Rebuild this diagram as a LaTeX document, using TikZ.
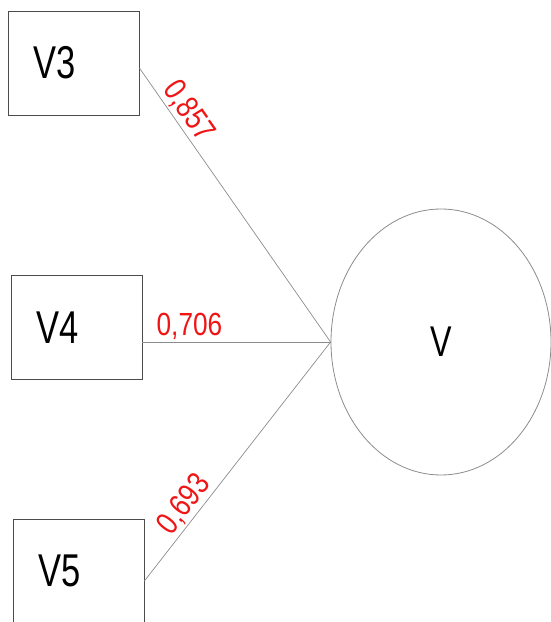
\documentclass[tikz,border=0pt]{standalone}
\usepackage{fontspec}
\usepackage{tikz}
\usetikzlibrary{shapes,positioning}
\newfontfamily\boxfont[FakeStretch=0.75]{Liberation Sans}
\newfontfamily\loadfont[FakeStretch=0.82]{Liberation Sans}
\definecolor{linegray}{gray}{0.55}
\definecolor{loadred}{RGB}{240,20,20}
\tikzset{
	indicator/.style={draw=black!70, line width=0.8pt, rectangle,
		minimum width=131pt, minimum height=104pt, text width=81pt,
		inner xsep=25pt, align=left, font=\boxfont\fontsize{46}{46}\selectfont},
	factor/.style={draw=linegray, line width=0.8pt, ellipse,
		minimum width=220pt, minimum height=266pt, inner sep=0pt,
		font=\boxfont\fontsize{43}{43}\selectfont},
	loading/.style={font=\loadfont\fontsize{32}{32}\selectfont,
		text=loadred, inner sep=2pt}
}

\begin{document}
\begin{tikzpicture}[x=1pt,y=1pt]
	\useasboundingbox (0,0) rectangle (551,622);
	% nodes
	\node[indicator] (V3) at (73.5,559) {V3};
	\node[indicator] (V4) at (76.5,294.5) {V4};
	\node[indicator] (V5) at (78.5,51) {V5};
	\node[factor] (V) at (441,280) {V};
	%
	\path[every edge/.style={draw=linegray, line width=0.7pt}]
	% loadings
	([yshift=-5pt]V3.east) edge node[loading, sloped, above, pos=0.19]{0,857} (V.west)
	(V4.east |- V.west) edge node[loading, above, pos=0.25]{0,706} (V.west)
	([yshift=-10pt]V5.east) edge node[loading, sloped, above, pos=0.28]{0,693} (V.west);
\end{tikzpicture}
\end{document}
